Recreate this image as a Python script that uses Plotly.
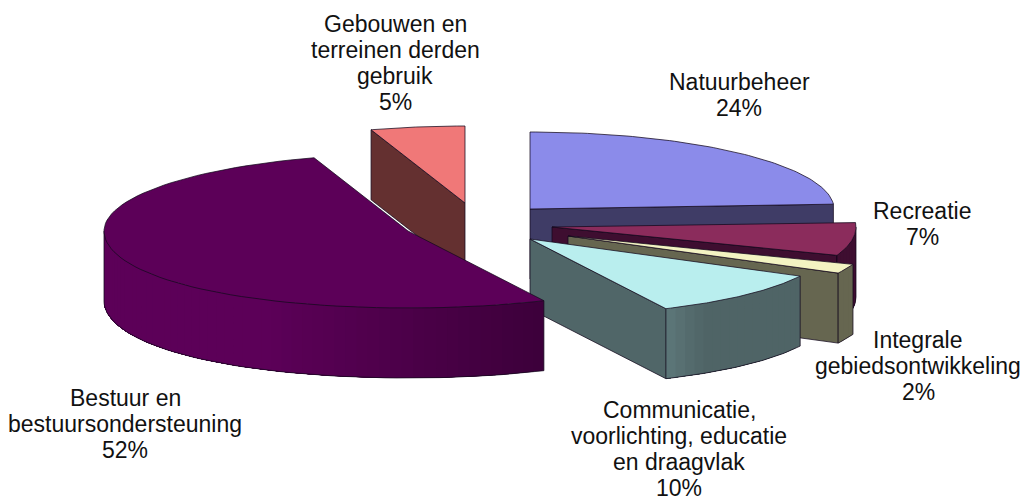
import numpy as np
import plotly.graph_objects as go

# ---- data ----
categories = ["Natuurbeheer", "Recreatie", "Integrale<br>gebiedsontwikkeling",
              "Communicatie,<br>voorlichting, educatie<br>en draagvlak",
              "Bestuur en<br>bestuursondersteuning",
              "Gebouwen en<br>terreinen derden<br>gebruik"]
values = [24, 7, 2, 10, 52, 5]

# ---- style / layout ----
TOP = ["#8b8bea", "#8b2c5c", "#f3f3c2", "#b9eeee", "#5c0058", "#f07878"]
CUT = ["#3f3c66", "#3e0e30", "#666650", "#506668", "#3a0038", "#643030"]
WALL_L = ["#3f3c66", "#3e0e30", "#666650", "#4f6466", "#5c0058", "#643030"]
WALL_R = ["#3f3c66", "#3e0e30", "#666650", "#5f7a7c", "#3a0038", "#643030"]
CENTERS = [(530, 209), (552, 227), (568, 236), (530, 239), (408, 231), (465, 203)]
LABEL_POS = [(739, 95), (922, 224), (918, 366), (679, 449), (125, 424), (395, 63)]
RX, RY, DEPTH = 304, 77, 70
PERSPECTIVE = 0.061
LINE_H = 25.8
DRAW_ORDER = [0, 5, 1, 2, 3, 4]
EDGE = "rgba(20,10,30,0.75)"


def hex2rgb(h):
    return np.array([int(h[i:i + 2], 16) for i in (1, 3, 5)], float)


def mix(a, b, t):
    c = hex2rgb(a) * (1 - t) + hex2rgb(b) * t
    return "rgb(%d,%d,%d)" % tuple(c)


fig = go.Figure()


def poly(xs, ys, fill, line=None, width=1):
    fig.add_trace(go.Scatter(x=list(xs), y=list(ys), mode="lines", fill="toself",
                             fillcolor=fill, line=dict(color=line or fill, width=width if line else 0),
                             hoverinfo="skip", showlegend=False))


def edge(xs, ys):
    fig.add_trace(go.Scatter(x=list(xs), y=list(ys), mode="lines",
                             line=dict(color=EDGE, width=1), hoverinfo="skip", showlegend=False))


def pt(c, deg):
    r = np.radians(deg)
    cs = np.cos(r)
    widen = 1 + PERSPECTIVE * np.where(cs < 0, cs ** 2, 0.0)
    return c[0] + RX * np.sin(r) * widen, c[1] - RY * cs


cum = np.concatenate([[0], np.cumsum(values)]) * 3.6

for i in DRAW_ORDER:
    a0, a1 = cum[i], cum[i + 1]
    c = CENTERS[i]
    arc = np.linspace(a0, a1, 80)
    ax, ay = pt(c, arc)
    # start cut face (visible when it faces the viewer: left half of the pie)
    if 180 < a0 < 360:
        x0, y0 = pt(c, a0)
        poly([c[0], x0, x0, c[0], c[0]], [c[1], y0, y0 + DEPTH, c[1] + DEPTH, c[1]], CUT[i], EDGE)
    # end cut face (visible on the right half of the pie)
    if a1 < 180:
        x1, y1 = pt(c, a1)
        poly([c[0], x1, x1, c[0], c[0]], [c[1], y1, y1 + DEPTH, c[1] + DEPTH, c[1]], CUT[i], EDGE)
    # outer wall on the front half, painted as overlapping shaded strips
    lo, hi = max(a0, 90), min(a1, 270)
    if hi > lo:
        n = max(2, int((hi - lo) / 2.0))
        st = np.linspace(lo, hi, n + 1)
        for k in range(n):
            s = np.linspace(st[k], hi, 60)
            sx, sy = pt(c, s)
            xm = sx[0]
            if i == 4:
                col = mix(WALL_L[i], WALL_R[i], np.clip((xm - (c[0] - RX + 170)) / 300, 0, 1))
            elif i == 3:
                col = mix(WALL_R[i], WALL_L[i], np.clip((xm - (c[0] + 136)) / 44, 0, 1))
            else:
                col = WALL_L[i]
            poly(list(sx) + list(sx[::-1]), list(sy) + list((sy + DEPTH)[::-1]), col)
        wa = np.linspace(lo, hi, 60)
        wx, wy = pt(c, wa)
        edge(wx, wy + DEPTH)
        xa, ya = pt(c, lo)
        xb, yb = pt(c, hi)
        edge([xa, xa], [ya, ya + DEPTH])
        edge([xb, xb], [yb, yb + DEPTH])
    # top surface
    poly([c[0]] + list(ax) + [c[0]], [c[1]] + list(ay) + [c[1]], TOP[i], EDGE)

annotations = []
for cat, v, (x, y) in zip(categories, values, LABEL_POS):
    lines = cat.split("<br>") + [f"{v}%"]
    for k, ln in enumerate(lines):
        annotations.append(dict(x=x, y=y + (k - (len(lines) - 1) / 2) * LINE_H, xref="x", yref="y",
                                showarrow=False, text=ln, align="center",
                                font=dict(family="Liberation Sans, Arial, sans-serif", size=23, color="#111111")))

fig.update_layout(width=1024, height=502, margin=dict(l=0, r=0, t=0, b=0),
                  paper_bgcolor="white", plot_bgcolor="white", showlegend=False,
                  xaxis=dict(range=[0, 1024], visible=False, fixedrange=True),
                  yaxis=dict(range=[502, 0], visible=False, fixedrange=True),
                  annotations=annotations)
fig.write_html("out.html", config={"displayModeBar": False},
               post_script="document.body.style.margin='0';document.documentElement.style.overflow='hidden';")
